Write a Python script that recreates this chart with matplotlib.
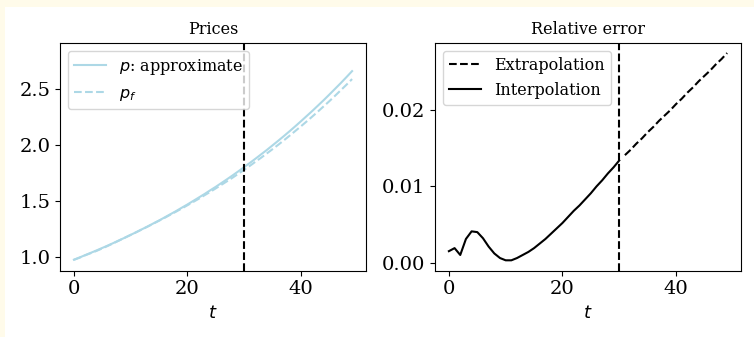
import matplotlib
matplotlib.use("Agg")
import matplotlib.pyplot as plt
from matplotlib.patches import Rectangle

plt.rcParams["font.family"] = "DejaVu Serif"

t = list(range(50))

p_approx = [0.976, 0.996, 1.017, 1.038, 1.059, 1.081, 1.103, 1.126, 1.150, 1.173,
            1.198, 1.222, 1.248, 1.273, 1.300, 1.326, 1.354, 1.382, 1.410, 1.440,
            1.469, 1.500, 1.531, 1.562, 1.595, 1.627, 1.661, 1.695, 1.730, 1.766,
            1.803, 1.840, 1.878, 1.917, 1.956, 1.997, 2.038, 2.080, 2.123, 2.167,
            2.212, 2.258, 2.304, 2.352, 2.400, 2.450, 2.501, 2.552, 2.605, 2.659]

p_f = [0.975, 0.994, 1.016, 1.035, 1.055, 1.077, 1.100, 1.124, 1.148, 1.173,
       1.197, 1.222, 1.247, 1.272, 1.298, 1.324, 1.350, 1.378, 1.405, 1.433,
       1.462, 1.491, 1.520, 1.551, 1.581, 1.613, 1.645, 1.677, 1.710, 1.744,
       1.779, 1.814, 1.851, 1.887, 1.925, 1.963, 2.002, 2.042, 2.083, 2.125,
       2.167, 2.210, 2.254, 2.299, 2.345, 2.391, 2.439, 2.488, 2.537, 2.588]

t_interp = list(range(31))
err_interp = [0.0015, 0.0019, 0.0010, 0.0031, 0.0041, 0.0040, 0.0032, 0.0021,
              0.0012, 0.0006, 0.0003, 0.0003, 0.0006, 0.0010, 0.0014, 0.0019,
              0.0025, 0.0031, 0.0038, 0.0045, 0.0052, 0.0060, 0.0068, 0.0075,
              0.0083, 0.0091, 0.0100, 0.0108, 0.0117, 0.0125, 0.0134]

t_extrap = list(range(31, 50))
err_extrap = [0.0141, 0.0148, 0.0156, 0.0163, 0.0171, 0.0178, 0.0186, 0.0193,
              0.0200, 0.0208, 0.0215, 0.0223, 0.0230, 0.0238, 0.0245, 0.0252,
              0.0260, 0.0267, 0.0275]

T_SPLIT = 30

fig = plt.figure(figsize=(7.54, 3.37), dpi=100, facecolor="#fffbea")
fig.patches.append(Rectangle((5 / 754, 0), 1, 1 - 7 / 337, transform=fig.transFigure,
                             facecolor="white", edgecolor="none", zorder=-1))

ax1 = fig.add_axes([0.0796, 0.1968, 0.4058, 0.6766])
ax2 = fig.add_axes([0.5769, 0.1968, 0.4059, 0.6766])

ax1.plot(t, p_approx, color="lightblue", label="$p$: approximate")
ax1.plot(t, p_f, color="lightblue", linestyle="--", label="$p_f$")
ax1.axvline(T_SPLIT, color="black", linestyle="--")
ax1.set_ylim(0.878, 2.913)
ax1.set_yticks([1.0, 1.5, 2.0, 2.5])
ax1.set_title("Prices", fontsize=11.5)
ax1.set_xlabel("$t$", fontsize=13)
ax1.legend(loc="upper left", fontsize=11.5)

ax2.plot(t_extrap, err_extrap, color="black", linestyle="--", label="Extrapolation")
ax2.plot(t_interp, err_interp, color="black", label="Interpolation")
ax2.axvline(T_SPLIT, color="black", linestyle="--")
ax2.set_yticks([0.0, 0.01, 0.02])
ax2.set_title("Relative error", fontsize=11.5)
ax2.set_xlabel("$t$", fontsize=13)
ax2.legend(loc="upper left", fontsize=11.5)

for ax in (ax1, ax2):
    ax.tick_params(labelsize=14)
    ax.set_xticks([0, 20, 40])

fig.savefig("out.png", dpi=100, facecolor=fig.get_facecolor())
